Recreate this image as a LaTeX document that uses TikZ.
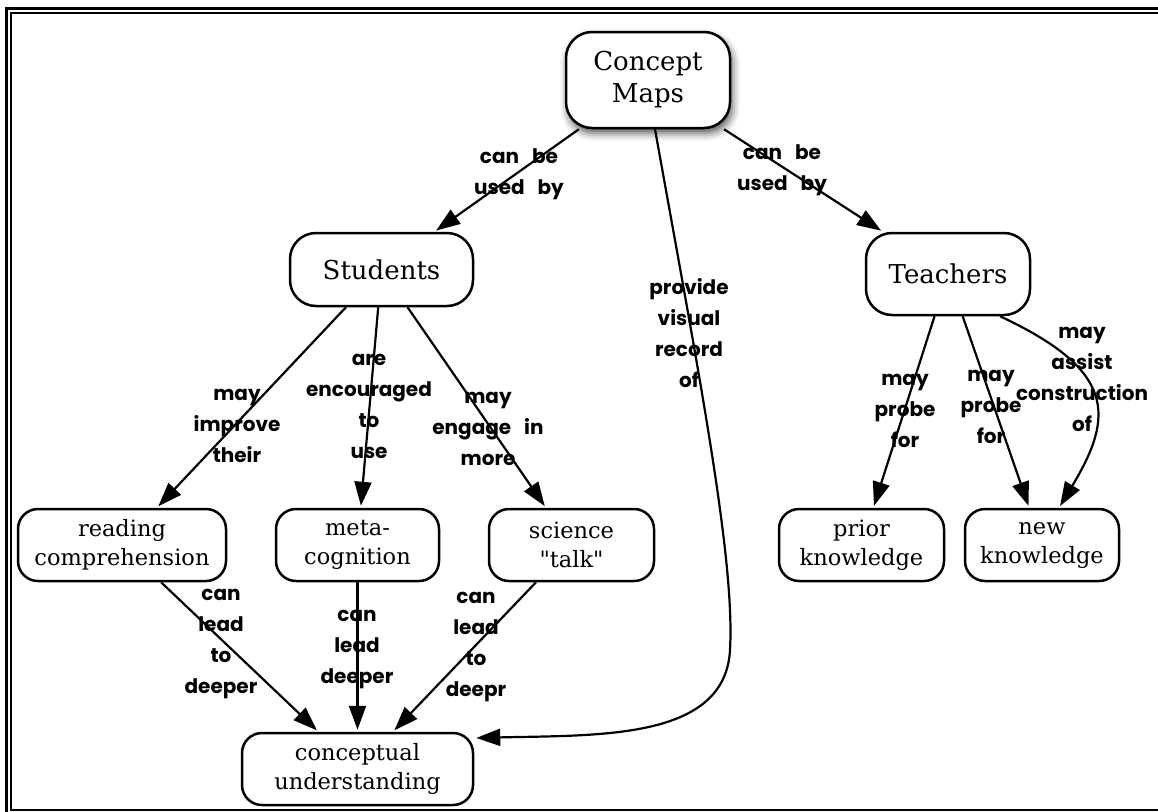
\documentclass[tikz,border=0pt]{standalone}
\usepackage{fontspec}
\usepackage{tikz}
\usetikzlibrary{arrows.meta,shadows.blur}

\setmainfont{DejaVu Serif}[Ligatures=TeXOff]
\newfontfamily\linkfamily{Poppins}

\newcommand{\nodefont}{\fontsize{22.5}{29}\selectfont}
\newcommand{\bignodefont}{\fontsize{26}{32}\selectfont}
\newcommand{\linkfont}{\linkfamily\bfseries\fontsize{20}{31}\selectfont\spaceskip=13pt\relax}

\tikzset{
  concept/.style={draw, fill=white, line width=2.5pt, rounded corners=20pt, align=center,
    font=\nodefont, minimum height=72pt, inner sep=2pt},
  bigconcept/.style={concept, rounded corners=26pt, font=\bignodefont},
  linkphrase/.style={align=center, font=\linkfont, inner sep=0pt},
  link/.style={-{Triangle[length=24pt,width=17pt]}, line width=2.2pt, shorten >=2pt},
}

\begin{document}
\begin{tikzpicture}[x=1pt,y=-1pt]
    \useasboundingbox (0,0) rectangle (1158,811);

    % Double frame round the map
    \draw[line width=3pt] (6,8) rectangle (1175,825);
    \draw[line width=2pt] (11,13) rectangle (1170,810);

    % Concepts
    \node[bigconcept, minimum width=164pt, minimum height=96pt,
      blur shadow={shadow xshift=2pt, shadow yshift=-5pt, shadow blur radius=8pt, shadow opacity=70}]
      (maps) at (648,80) {Concept\\Maps};
    \node[bigconcept, minimum width=183pt, minimum height=73pt] (students) at (381.5,269.5) {Students};
    \node[bigconcept, minimum width=164pt, minimum height=82pt] (teachers) at (948,274) {Teachers};
    \node[concept, minimum width=208pt] (reading) at (122,545) {reading\\comprehension};
    \node[concept, minimum width=163pt] (meta) at (357.5,545) {meta-\\cognition};
    \node[concept, minimum width=165pt] (talk) at (571.5,545) {science\\"talk"};
    \node[concept, minimum width=165pt] (prior) at (861.5,545) {prior\\knowledge};
    \node[concept, minimum width=154pt] (newknow) at (1042,545) {new\\knowledge};
    \node[concept, minimum width=231pt] (understanding) at (357.5,769) {conceptual\\understanding};

    % Links
    \draw[link] (maps) -- (students);
    \draw[link] (maps) -- (teachers);
    \draw[link] ([xshift=7pt]maps.south) .. controls (700,380) and (735,560) .. (730,650)
      .. controls (725,740) and (600,735) .. ([yshift=31pt]understanding.east);
    \draw[link] (students) -- (reading);
    \draw[link] (students) -- (meta);
    \draw[link] (students) -- (talk);
    \draw[link] (reading) -- (understanding);
    \draw[link] (meta) -- (understanding);
    \draw[link] (talk) -- (understanding);
    \draw[link] (teachers) -- (prior);
    \draw[link] (teachers) -- (newknow);
    \draw[link] ([xshift=52pt]teachers.south) .. controls (1115,370) and (1115,415)
      .. ([xshift=17pt]newknow.north);

    % Linking phrases
    \node[linkphrase] (usedstudents) at (519,174) {can be\\used by};
    \node[linkphrase] (usedteachers) at (782,170) {can be\\used by};
    \node[linkphrase] (record) at (689,333) {provide\\visual\\record\\of};
    \node[linkphrase] (improve) at (237,426) {may\\improve\\their};
    \node[linkphrase] (encouraged) at (369,406) {are\\encouraged\\to\\use};
    \node[linkphrase] (engage) at (488,429) {may\\engage in\\more};
    \node[linkphrase] (leadreading) at (221,644) {can\\lead\\to\\deeper};
    \node[linkphrase] (leadmeta) at (357,649) {can\\lead\\deeper};
    \node[linkphrase] (leadtalk) at (476,647) {can\\lead\\to\\deepr};
    \node[linkphrase] (probeprior) at (905,411) {may\\probe\\for};
    \node[linkphrase] (probenew) at (991,407) {may\\probe\\for};
    \node[linkphrase] (assist) at (1082,379) {may\\assist\\construction\\of};
\end{tikzpicture}
\end{document}
